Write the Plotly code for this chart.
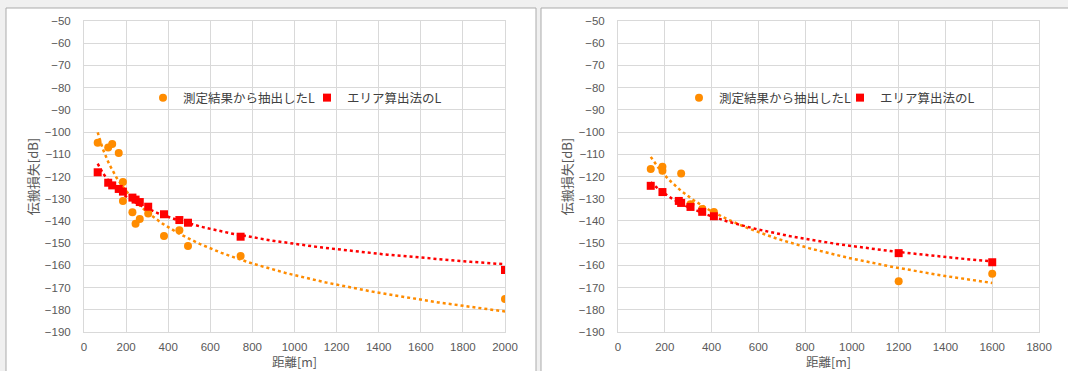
import numpy as np
import plotly.graph_objects as go

# ---------------- data ----------------
left_meas_dist = [65, 115, 134, 165, 185, 185, 230, 245, 265, 305, 380, 453, 494, 744, 2000]
left_meas_loss = [-104.8, -106.9, -105.4, -109.4, -122.5, -131.0, -136.1, -141.3, -139.1,
                  -136.6, -146.8, -144.2, -151.3, -155.8, -175.2]
left_area_dist = [65, 115, 134, 165, 185, 230, 245, 265, 305, 380, 453, 494, 744, 2000]
left_area_loss = [-118.1, -122.8, -124.0, -125.6, -126.8, -129.5, -130.4, -131.5, -133.6,
                  -137.0, -139.6, -140.8, -147.1, -162.1]

right_meas_dist = [140, 190, 190, 270, 310, 360, 410, 1200, 1600]
right_meas_loss = [-116.6, -115.6, -117.4, -118.7, -132.5, -134.6, -136.0, -167.2, -163.8]
right_area_dist = [140, 190, 260, 270, 310, 360, 410, 1200, 1600]
right_area_loss = [-124.2, -127.0, -131.0, -131.9, -133.7, -135.9, -137.9, -154.5, -158.6]

name_meas = "測定結果から抽出したL"
name_area = "エリア算出法のL"
x_title = "距離[m]"
y_title = "伝搬損失[dB]"
y_ticks = list(range(-190, -40, 10))
left_x_ticks = list(range(0, 2001, 200))
right_x_ticks = list(range(0, 1801, 200))

ORANGE = "#ff8c00"
RED = "#ff0000"
GRID = "#d9d9d9"
TICK = "#595959"
W, H = 1068, 371
CJK = "Noto Sans CJK JP, Noto Sans, sans-serif"


def log_trend(xs, ys):
    """Excel-style logarithmic trendline fitted to the data."""
    lx = np.log(np.asarray(xs, float))
    a, b = np.polyfit(lx, np.asarray(ys, float), 1)
    xx = np.geomspace(min(xs), max(xs), 200)
    return xx, a * np.log(xx) + b


fig = go.Figure()


def add_panel(xs_m, ys_m, xs_a, ys_a, xa, ya, leg_m, leg_a):
    tx, ty = log_trend(xs_m, ys_m)
    fig.add_trace(go.Scatter(x=tx, y=ty, mode="lines", xaxis=xa, yaxis=ya,
                             line=dict(color=ORANGE, width=2.5, dash="dot"),
                             showlegend=False, hoverinfo="skip"))
    tx, ty = log_trend(xs_a, ys_a)
    fig.add_trace(go.Scatter(x=tx, y=ty, mode="lines", xaxis=xa, yaxis=ya,
                             line=dict(color=RED, width=2.5, dash="dot"),
                             showlegend=False, hoverinfo="skip"))
    fig.add_trace(go.Scatter(x=xs_m, y=ys_m, mode="markers", name=name_meas,
                             xaxis=xa, yaxis=ya, legend=leg_m,
                             marker=dict(color=ORANGE, size=8, symbol="circle")))
    fig.add_trace(go.Scatter(x=xs_a, y=ys_a, mode="markers", name=name_area,
                             xaxis=xa, yaxis=ya, legend=leg_a,
                             marker=dict(color=RED, size=8, symbol="square")))


add_panel(left_meas_dist, left_meas_loss, left_area_dist, left_area_loss, "x", "y", "legend", "legend2")
add_panel(right_meas_dist, right_meas_loss, right_area_dist, right_area_loss, "x2", "y2", "legend3", "legend4")

y_bot = (H - 332) / H
y_top = (H - 21) / H

common_x = dict(showgrid=True, gridcolor=GRID, gridwidth=1, zeroline=False,
                showline=True, linecolor=GRID, mirror=True, ticks="", automargin=False,
                tickfont=dict(family="Liberation Sans, Arial", size=11.5, color=TICK),
                title=dict(text=x_title, font=dict(family=CJK, size=12.5, color=TICK), standoff=6),
                ticklabelstandoff=4, fixedrange=True)
common_y = dict(range=[-190, -50], tickvals=y_ticks, showgrid=True, gridcolor=GRID, gridwidth=1,
                zeroline=False, showline=True, linecolor=GRID, mirror=True, ticks="", automargin=False,
                tickfont=dict(family="Liberation Sans, Arial", size=11.5, color=TICK),
                title=dict(text=y_title, font=dict(family=CJK, size=13, color=TICK), standoff=3),
                ticklabelstandoff=10, domain=[y_bot, y_top], fixedrange=True)

leg_common = dict(orientation="h", yanchor="middle", y=(H - 98) / H, xanchor="left",
                  bgcolor="rgba(0,0,0,0)", font=dict(family=CJK, size=12.5, color="#404040"),
                  itemwidth=30)

fig.update_layout(
    width=W, height=H, margin=dict(l=0, r=0, t=0, b=0, autoexpand=False),
    paper_bgcolor="#f0f0f0", plot_bgcolor="white",
    xaxis=dict(common_x, range=[0, 2000], tickvals=left_x_ticks, domain=[84 / W, 505 / W], anchor="y"),
    yaxis=dict(common_y, anchor="x"),
    xaxis2=dict(common_x, range=[0, 1800], tickvals=right_x_ticks, domain=[618 / W, 1039 / W], anchor="y2"),
    yaxis2=dict(common_y, anchor="x2"),
    legend=dict(leg_common, x=143 / W),
    legend2=dict(leg_common, x=307 / W),
    legend3=dict(leg_common, x=679 / W),
    legend4=dict(leg_common, x=840 / W),
    shapes=[
        dict(type="rect", xref="paper", yref="paper", layer="below",
             x0=6 / W, x1=536 / W, y0=-0.1, y1=(H - 8) / H,
             fillcolor="white", line=dict(color="#ababab", width=1)),
        dict(type="rect", xref="paper", yref="paper", layer="below",
             x0=541 / W, x1=1.1, y0=-0.1, y1=(H - 8) / H,
             fillcolor="white", line=dict(color="#ababab", width=1)),
    ],
)

fig.write_html(
    "out.html",
    config={"displayModeBar": False},
    post_script="document.body.style.margin='0';document.body.style.background='#f0f0f0';",
)
